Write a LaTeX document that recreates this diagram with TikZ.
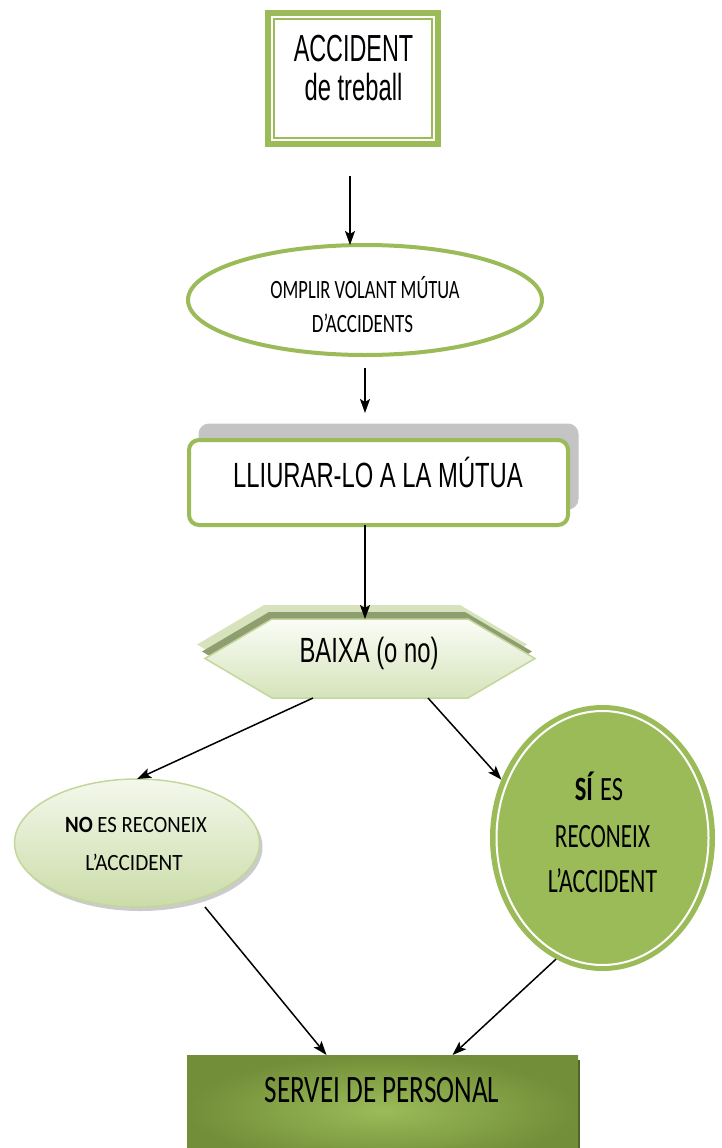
\documentclass[tikz,border=0pt]{standalone}
\usepackage{fontspec}
\usepackage{graphicx}
\usetikzlibrary{arrows.meta,calc,shapes.geometric,shadows,backgrounds}
\setmainfont{Carlito}
\newfontfamily\arialf{Liberation Sans}
\newfontfamily\calib{Carlito}
\definecolor{gA}{HTML}{9BBB59}
\definecolor{gLine}{HTML}{C3D69B}
\definecolor{gPale}{HTML}{D6E3BC}
\definecolor{gDark}{HTML}{8E9E6E}
\definecolor{gOlive}{HTML}{728E38}
\definecolor{gDeep}{HTML}{4F6228}
\definecolor{shGray}{HTML}{C4C4C4}
\definecolor{hexTop}{HTML}{FBFDF7}
\definecolor{hexBot}{HTML}{D5E3BA}
\definecolor{noTop}{HTML}{F4F8EC}
\definecolor{noBot}{HTML}{CBDCA8}
\newcommand\sx[2]{\scalebox{#1}[1]{#2}}
\newcommand\hexpts[2]{($(baixa.west)+(#1,#2)$) -- ($(baixa.north west)+(67+#1,#2)$) -- ($(baixa.north east)+(-67+#1,#2)$) -- ($(baixa.east)+(#1,#2)$) -- ($(baixa.south east)+(-67+#1,#2)$) -- ($(baixa.south west)+(67+#1,#2)$) -- cycle}
\begin{document}
\begin{tikzpicture}[x=1pt,y=-1pt,
  arr/.style={-{Stealth[length=14pt,width=10pt,inset=3pt]}, line width=1.5pt, black},
  lbl/.style={anchor=base, inner sep=0pt, outer sep=0pt, text=black},
  shapebox/.style={inner sep=0pt, outer sep=0pt},
  arialtxt/.style={font=\arialf\fontsize{35pt}{40pt}\selectfont},
]
\useasboundingbox (0,0) rectangle (722,1148);
\clip (0,0) rectangle (722,1148);

% ---- shapes ----
\node[shapebox, draw=gA, line width=6pt, minimum width=170pt, minimum height=131pt] (acc) at (353,78.5) {};
\draw[gA, line width=1.8pt] ($(acc.north west)+(6,6)$) rectangle ($(acc.south east)+(-6,-6)$);

\node[shapebox, ellipse, draw=gA, line width=4pt, fill=white, minimum width=354pt, minimum height=110pt] (omplir) at (365,300) {};

\node[shapebox, rounded corners=10pt, draw=gA, line width=4pt, fill=white, minimum width=379pt, minimum height=85pt] (lliurar) at (378.5,482.5) {};

\node[shapebox, minimum width=330pt, minimum height=79pt] (baixa) at (370,658.5) {};

\node[shapebox, ellipse, draw=gLine, line width=1.5pt, top color=noTop, bottom color=noBot,
  drop shadow={shadow xshift=3pt, shadow yshift=-4pt, fill=black!45, opacity=0.45},
  minimum width=245pt, minimum height=128pt] (no) at (137,843) {};

\node[shapebox, ellipse, fill=gA, minimum width=225pt, minimum height=266pt] (si) at (602.5,838) {};
\draw[white, line width=2pt] (si.center) ellipse [x radius=106pt, y radius=127pt];

\node[shapebox, minimum width=391pt, minimum height=110pt, inner color=gA, outer color=gOlive] (servei) at (382.5,1110) {};

\begin{scope}[on background layer]
  \fill[shGray, draw=gray!45, line width=1pt, rounded corners=10pt]
    ($(lliurar.north west)+(10,-16)$) rectangle ($(lliurar.south east)+(10,-16)$);
  \fill[gPale] \hexpts{-8}{-14};
  \fill[gDark] \hexpts{-3}{-7};
  \path[top color=hexTop, bottom color=hexBot, draw=gLine, line width=1.5pt] \hexpts{0}{0};
  \fill[gDeep] ($(servei.north west)+(2,5)$) rectangle ($(servei.south east)+(2,5)$);
\end{scope}

% ---- texts ----
\node[lbl, font=\arialf\fontsize{37.7pt}{40pt}\selectfont] (tacc1) at (353.5,62) {\sx{0.62}{ACCIDENT}};
\node[lbl, font=\arialf\fontsize{37.7pt}{40pt}\selectfont] (tacc2) at (353.5,100) {\sx{0.63}{de treball}};

\node[lbl, font=\calib\fontsize{26.4pt}{30pt}\selectfont] (tomp1) at (365,298) {\sx{0.70}{OMPLIR VOLANT MÚTUA}};
\node[lbl, font=\calib\fontsize{26.4pt}{30pt}\selectfont] (tomp2) at (362.5,332) {\sx{0.72}{D’ACCIDENTS}};

\node[lbl, arialtxt] (tlliu) at (378,487) {\sx{0.68}{LLIURAR-LO A LA MÚTUA}};

\node[lbl, arialtxt] (tbaixa) at (369,662) {\sx{0.68}{BAIXA (o no)}};

\node[lbl, font=\calib\fontsize{23.3pt}{28pt}\selectfont] (tno1) at (136,832) {\sx{0.89}{\textbf{NO} ES RECONEIX}};
\node[lbl, font=\calib\fontsize{23.3pt}{28pt}\selectfont] (tno2) at (134,870) {\sx{0.91}{L’ACCIDENT}};

\node[lbl, font=\calib\fontsize{34pt}{40pt}\selectfont] (tsi1) at (599,800) {\sx{0.72}{\textbf{SÍ} ES}};
\node[lbl, font=\calib\fontsize{34pt}{40pt}\selectfont] (tsi2) at (602.5,847) {\sx{0.68}{RECONEIX}};
\node[lbl, font=\calib\fontsize{34pt}{40pt}\selectfont] (tsi3) at (602.5,892) {\sx{0.70}{L’ACCIDENT}};

\node[lbl, font=\calib\fontsize{38.8pt}{44pt}\selectfont] (tserv) at (382,1102) {\sx{0.70}{SERVEI DE PERSONAL}};

% ---- connectors ----
\coordinate (a1s) at ($(acc.south)+(-3,32)$);
\draw[arr] (a1s) -- (a1s |- omplir.north);
\draw[arr] ($(omplir.south)+(0,13)$) -- ($(lliurar.north)+(-13.5,-27)$);
\draw[arr] ($(lliurar.south)+(-13.5,0)$) -- ($(baixa.north)+(-5,0)$);
\draw[arr] ($(baixa.south)+(-57,0)$) -- (no.north);
\draw[arr] ($(baixa.south)+(58,0)$) -- (si.150);
\draw[arr] ($(no.south)+(68,0)$) -- ($(servei.north)+(-56,0)$);
\draw[arr] (si.249) -- ($(servei.north)+(70,0)$);
\end{tikzpicture}
\end{document}
